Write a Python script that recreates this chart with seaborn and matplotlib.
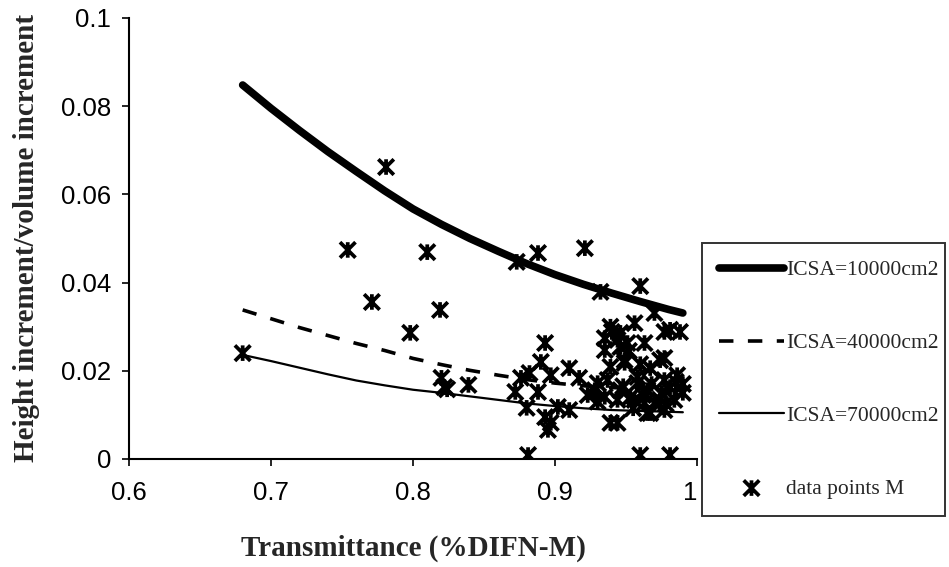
import numpy as np
import pandas as pd
import matplotlib
matplotlib.use("Agg")
import matplotlib.pyplot as plt
import matplotlib.transforms as mtransforms
from matplotlib.path import Path
import seaborn as sns

# ---- data -------------------------------------------------------------
curve_x = [0.68, 0.70, 0.72, 0.74, 0.76, 0.78, 0.80, 0.82, 0.84, 0.86,
           0.88, 0.90, 0.92, 0.94, 0.96, 0.98, 0.99]
icsa_10000 = [0.0848, 0.0795, 0.0745, 0.0697, 0.0652, 0.0608, 0.0567, 0.0532,
              0.0500, 0.0471, 0.0443, 0.0418, 0.0396, 0.0376, 0.0357, 0.0339, 0.0331]
icsa_40000 = [0.0338, 0.0318, 0.0298, 0.0280, 0.0262, 0.0246, 0.0228, 0.0214,
              0.0201, 0.0190, 0.0180, 0.0172, 0.0166, 0.0162, 0.0159, 0.0156, 0.0155]
icsa_70000 = [0.0236, 0.0222, 0.0207, 0.0192, 0.0178, 0.0167, 0.0157, 0.0150,
              0.0142, 0.0134, 0.0126, 0.0120, 0.0115, 0.0111, 0.0109, 0.0107, 0.0106]

pts_x = [0.680, 0.754, 0.771, 0.781, 0.798, 0.810, 0.819, 0.820, 0.822, 0.824,
         0.839, 0.873, 0.888, 0.921, 0.932, 0.960, 0.970, 0.977, 0.988, 0.956,
         0.946, 0.935, 0.963, 0.935, 0.946, 0.949, 0.939, 0.977, 0.967, 0.986,
         0.977, 0.958, 0.937, 0.928, 0.935, 0.946, 0.965, 0.981, 0.984, 0.970,
         0.956, 0.944, 0.965, 0.977, 0.893, 0.890, 0.910, 0.882, 0.876, 0.897,
         0.917, 0.872, 0.888, 0.923, 0.930, 0.880, 0.902, 0.910, 0.893, 0.897,
         0.895, 0.881, 0.960, 0.981, 0.939, 0.949, 0.974, 0.944, 0.953, 0.963,
         0.974, 0.990, 0.958, 0.951, 0.944, 0.981, 0.990, 0.939, 0.967,
         0.940, 0.952, 0.960, 0.968, 0.975, 0.985, 0.955, 0.948, 0.930, 0.962, 0.978]
pts_y = [0.0240, 0.0474, 0.0356, 0.0662, 0.0286, 0.0469, 0.0338, 0.0184, 0.0163, 0.0158,
         0.0168, 0.0447, 0.0467, 0.0478, 0.0379, 0.0392, 0.0331, 0.0288, 0.0288, 0.0308,
         0.0286, 0.0274, 0.0263, 0.0247, 0.0254, 0.0224, 0.0209, 0.0229, 0.0206, 0.0190,
         0.0179, 0.0186, 0.0179, 0.0156, 0.0141, 0.0156, 0.0156, 0.0163, 0.0134, 0.0127,
         0.0134, 0.0082, 0.0104, 0.0111, 0.0263, 0.0220, 0.0206, 0.0195, 0.0184, 0.0190,
         0.0184, 0.0152, 0.0152, 0.0145, 0.0172, 0.0116, 0.0118, 0.0111, 0.0095, 0.0082,
         0.0066, 0.0009, 0.0009, 0.0009, 0.0300, 0.0218, 0.0224, 0.0134, 0.0140, 0.0127,
         0.0134, 0.0150, 0.0172, 0.0263, 0.0270, 0.0293, 0.0170, 0.0082, 0.0104,
         0.0288, 0.0245, 0.0215, 0.0170, 0.0150, 0.0175, 0.0115, 0.0165, 0.0130, 0.0145, 0.0125]

x_ticks = [0.6, 0.7, 0.8, 0.9, 1.0]
x_tick_labels = ["0.6", "0.7", "0.8", "0.9", "1"]
y_ticks = [0, 0.02, 0.04, 0.06, 0.08, 0.1]
y_tick_labels = ["0", "0.02", "0.04", "0.06", "0.08", "0.1"]

curves = pd.DataFrame({"x": curve_x, "c1": icsa_10000, "c4": icsa_40000, "c7": icsa_70000})
points = pd.DataFrame({"x": pts_x, "y": pts_y})

# ---- figure -----------------------------------------------------------
sns.set_style("ticks")
plt.rcParams["font.family"] = ["Liberation Sans", "DejaVu Sans"]

fig = plt.figure(figsize=(9.49, 5.67), dpi=100)
ax = fig.add_axes([0.136, 0.1905, 0.5985, 0.7778])

star = Path([(-1, -1), (1, 1), (-1, 1), (1, -1), (0, -1.0), (0, 1.0)],
            [Path.MOVETO, Path.LINETO, Path.MOVETO, Path.LINETO, Path.MOVETO, Path.LINETO])

sns.lineplot(data=curves, x="x", y="c1", ax=ax, color="black", lw=5.5,
             solid_capstyle="round", label="ICSA=10000cm2")
sns.lineplot(data=curves, x="x", y="c4", ax=ax, color="black", lw=2.6,
             dashes=(4.0, 4.0), label="ICSA=40000cm2")
sns.lineplot(data=curves, x="x", y="c7", ax=ax, color="black", lw=1.6,
             label="ICSA=70000cm2")
sns.scatterplot(data=points, x="x", y="y", ax=ax, marker=star, s=125,
                facecolors="none", edgecolors="black", linewidths=2.7,
                label="data points M", zorder=5)

ax.set_xlim(0.6, 1.0)
ax.set_ylim(0, 0.1)
ax.set_xticks(x_ticks)
ax.set_xticklabels(x_tick_labels)
ax.set_yticks(y_ticks)
ax.set_yticklabels(y_tick_labels)
ax.tick_params(axis="both", labelsize=18.5, length=5, width=1.2, color="black",
               labelcolor="black", direction="out")
ax.tick_params(axis="x", pad=11)
ax.tick_params(axis="y", pad=8)
for side in ["top", "right"]:
    ax.spines[side].set_visible(False)
for side in ["left", "bottom"]:
    ax.spines[side].set_color("black")
    ax.spines[side].set_linewidth(1.5)

# nudge the last x tick label ("1") left so it sits beside the legend box
last = ax.get_xticklabels()[-1]
last.set_transform(last.get_transform() +
                   mtransforms.ScaledTranslation(-5 / 72, 0, fig.dpi_scale_trans))

ax.set_xlabel("Transmittance (%DIFN-M)", fontsize=21, fontweight="bold",
              family="Liberation Serif", labelpad=21)
ax.set_ylabel("Height increment/volume increment", fontsize=21, fontweight="bold",
              family="Liberation Serif", labelpad=15)

handles, labels = ax.get_legend_handles_labels()
ax.get_legend().remove()
leg = fig.legend(handles, labels, loc="upper left",
                 bbox_to_anchor=(0.7397, 0.0917, 0.256, 0.4797), mode="expand",
                 prop={"family": "Liberation Serif", "size": 15.5},
                 handlelength=3.0, handletextpad=0.1, labelspacing=2.45,
                 borderpad=0.8, borderaxespad=0, fancybox=False, frameon=True,
                 markerscale=1.0)
leg.get_frame().set_edgecolor("black")
leg.get_frame().set_linewidth(1.4)

fig.savefig("out.png", dpi=100, facecolor="white")
